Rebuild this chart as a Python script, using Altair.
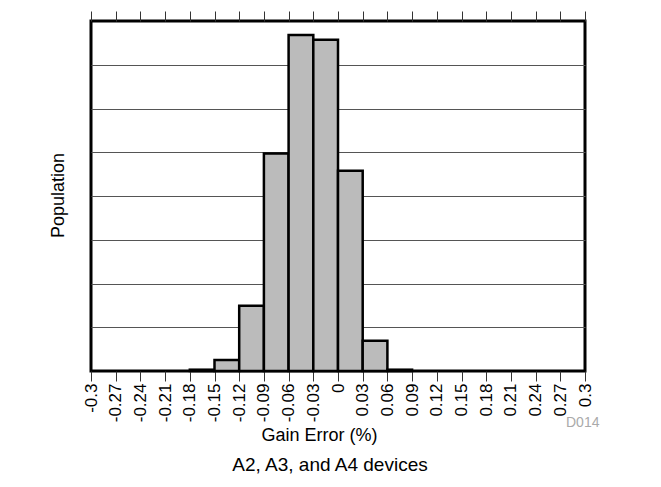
import altair as alt
import pandas as pd

# Histogram bins (Gain Error, %)
bin_start = [-0.18, -0.15, -0.12, -0.09, -0.06, -0.03, 0.0, 0.03, 0.06]
bin_end = [-0.15, -0.12, -0.09, -0.06, -0.03, 0.0, 0.03, 0.06, 0.09]
population = [0.03, 0.25, 1.49, 4.97, 7.68, 7.57, 4.58, 0.69, 0.03]

x_ticks = [-0.3, -0.27, -0.24, -0.21, -0.18, -0.15, -0.12, -0.09, -0.06, -0.03,
           0, 0.03, 0.06, 0.09, 0.12, 0.15, 0.18, 0.21, 0.24, 0.27, 0.3]
y_grid = [1, 2, 3, 4, 5, 6, 7]

FONT = "Liberation Sans"

df = pd.DataFrame({"start": bin_start, "end": bin_end, "pop": population})
xscale = alt.Scale(domain=[-0.3, 0.3], nice=False, zero=False)

bars = alt.Chart(df).mark_bar(
    fill="#BBBBBB", stroke="black", strokeWidth=2.5
).encode(
    x=alt.X("start:Q", scale=xscale, axis=alt.Axis(
        orient="bottom", values=x_ticks, labelExpr="toString(datum.value)",
        labelAngle=-90, labelAlign="right", labelBaseline="middle",
        labelPadding=2, labelFontSize=17, labelFont=FONT, labelColor="black",
        labelOverlap=False, labelFlush=False, labelBound=False,
        ticks=True, tickSize=10, tickColor="#333333", tickWidth=1,
        domain=False, grid=False,
        title="Gain Error (%)", titleFont=FONT, titleFontSize=18,
        titleFontWeight="normal", titleColor="black",
        titleX=228, titleY=69, titleAlign="center", titleBaseline="alphabetic",
    )),
    x2="end:Q",
    y=alt.Y("pop:Q", scale=alt.Scale(domain=[0, 8], nice=False), axis=alt.Axis(
        values=y_grid, labels=False, ticks=False, domain=False,
        grid=True, gridColor="#555555", gridWidth=1,
        title="Population", titleFont=FONT, titleFontSize=18,
        titleFontWeight="normal", titleColor="black",
        titleX=-28, titleY=174, titleAlign="center", titleBaseline="alphabetic",
    )),
    y2=alt.datum(0),
)

top_axis = alt.Chart(df).mark_rule(opacity=0).encode(
    x=alt.X("start:Q", scale=xscale, axis=alt.Axis(
        orient="top", values=x_ticks, labels=False, ticks=True, tickSize=10,
        tickColor="#333333", tickWidth=1, domain=False, grid=False, title=None,
    )),
)

code_label = alt.Chart(pd.DataFrame({"t": ["D014"]})).mark_text(
    align="left", baseline="middle", font=FONT, fontSize=14, color="#AAAAAA"
).encode(text="t:N", x=alt.value(475), y=alt.value(402))

chart = alt.layer(bars, top_axis, code_label).resolve_axis(
    x="independent"
).properties(
    width=494, height=350,
    background="white",
    autosize=alt.AutoSizeParams(type="none"),
    padding={"left": 83, "top": 13, "right": 68, "bottom": 108},
    title=alt.TitleParams(
        "A2, A3, and A4 devices", orient="bottom", anchor="middle",
        font=FONT, fontSize=19, fontWeight="normal", color="black",
        offset=12, dx=-8,
    ),
).configure_view(
    stroke="black", strokeWidth=3
)

chart.save("out.html", embed_options={"renderer": "svg", "actions": False})
